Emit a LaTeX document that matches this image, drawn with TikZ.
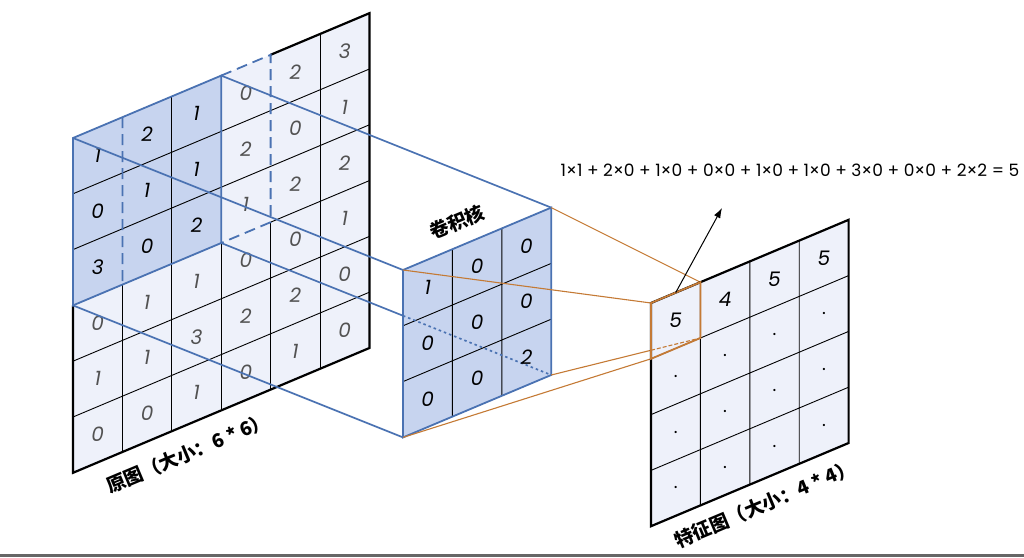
\documentclass[tikz,border=0pt]{standalone}
\usepackage{fontspec}
\setmainfont{Poppins}
\newfontfamily\cjk{Noto Sans CJK SC}
\usetikzlibrary{arrows.meta}
\tikzset{>={Latex[length=10pt,width=7pt]}}
\definecolor{gridfill}{HTML}{EEF1FA}
\definecolor{hlfill}{HTML}{C7D4EF}
\definecolor{hlblue}{HTML}{4A72B2}
\definecolor{mapline}{HTML}{C47A35}
\tikzset{
  skewcells/.style={x={(49.4pt,20.8pt)}, y={(0pt,-55.8pt)}},
  cellnum/.style={font=\fontsize{20}{20}\selectfont\itshape},
  title/.style={font=\cjk\bfseries\fontsize{19}{19}\selectfont, rotate=22.8},
  thin grid/.style={line width=0.9pt},
  frame/.style={line width=2.2pt, line join=miter},
  window/.style={draw=hlblue, line width=1.8pt, line join=miter},
  link/.style={hlblue, line width=1.7pt},
  maplink/.style={mapline, line width=1.1pt},
}

\begin{document}
\begin{tikzpicture}[x=1pt,y=-1pt]
  \useasboundingbox (0,0) rectangle (1024,557);
  \fill[black!60] (0,554) rectangle (1024,557);

  % input image 6*6
  \begin{scope}[shift={(73,138)}, skewcells]
    \fill[gridfill] (0,0) -- (6,0) -- (6,6) -- (0,6) -- cycle;
    \fill[hlfill] (0,0) -- (3,0) -- (3,3) -- (0,3) -- cycle;
    \foreach \c/\s in {1/3,2/0,3/3,4/3,5/0} \draw[thin grid] (\c,\s) -- (\c,6);
    \foreach \r/\s in {1/0,2/0,3/4,4/0,5/0} \draw[thin grid] (\s,\r) -- (6,\r);
    \draw[frame] (4,0) -- (6,0) -- (6,6) -- (0,6) -- (0,3);
    \draw[window] (0,0) -- (3,0) -- (3,3) -- (0,3) -- cycle;
    \draw[window, dash pattern=on 11pt off 6pt] (1,0) -- (1,3) (3,0) -- (4,0) -- (4,3) -- (3,3);
    \foreach \row [count=\r from 0] in {{1,2,1,0,2,3},{0,1,1,2,0,1},{3,0,2,1,2,2},{0,1,1,0,0,1},{1,1,3,2,2,0},{0,0,1,0,1,0}}
      \foreach \v [count=\c from 0] in \row {
        \ifnum\r<3 \ifnum\c<3 \def\numcol{black}\else\def\numcol{black!68}\fi\else\def\numcol{black!68}\fi
        \node[cellnum, text=\numcol] (o\r\c) at (\c+0.5,\r+0.5) {\v};
      }
    \coordinate (oTL) at (0,0);
    \coordinate (oTR) at (3,0);
    \coordinate (oBR) at (3,3);
    \coordinate (oBL) at (0,3);
    \node[title] (oname) at (2.33,6.52) {原图（大小：6 * 6）};
  \end{scope}

  % kernel 3*3
  \begin{scope}[shift={(403,270)}, skewcells]
    \coordinate (kTL) at (0,0);
    \coordinate (kTR) at (3,0);
    \coordinate (kBR) at (3,3);
    \coordinate (kBL) at (0,3);
    \draw[link] (oTL) -- (kTL) (oTR) -- (kTR) (oBL) -- (kBL) (oBR) -- (kBR);
    \fill[hlfill] (0,0) -- (3,0) -- (3,3) -- (0,3) -- cycle;
    \foreach \i in {1,2} \draw[thin grid] (\i,0) -- (\i,3) (0,\i) -- (3,\i);
    \draw[window] (0,0) -- (3,0) -- (3,3) -- (0,3) -- cycle;
    \draw[link, dash pattern=on 2.5pt off 3pt] (intersection of oBR--kBR and kTL--kBL) -- (kBR);
    \foreach \row [count=\r from 0] in {{1,0,0},{0,0,0},{0,0,2}}
      \foreach \v [count=\c from 0] in \row
        \node[cellnum] (k\r\c) at (\c+0.5,\r+0.5) {\v};
    \node[title] (kname) at (1.1,-0.45) {卷积核};
  \end{scope}

  % feature map 4*4
  \begin{scope}[shift={(651,303)}, skewcells]
    \coordinate (cTL) at (0,0);
    \coordinate (cTR) at (1,0);
    \coordinate (cBR) at (1,1);
    \coordinate (cBL) at (0,1);
    \coordinate (cTop) at (0.5,0);
    \draw[maplink] (kTL) -- (cTL) (kTR) -- (cTR) (kBL) -- (cBL) (kBR) -- (cBR);
    \fill[gridfill] (0,0) -- (4,0) -- (4,4) -- (0,4) -- cycle;
    \foreach \i in {1,2,3} \draw[thin grid] (\i,0) -- (\i,4) (0,\i) -- (4,\i);
    \draw[frame] (0,0) -- (4,0) -- (4,4) -- (0,4) -- cycle;
    \draw[maplink, dash pattern=on 4pt off 2pt] (intersection of kBR--cBR and cTL--cBL) -- (cBR);
    \draw[maplink, line width=1.8pt, line join=miter] (cTL) -- (cTR) -- (cBR) -- (cBL) -- cycle;
    \foreach \v [count=\c from 0] in {5,4,5,5}
      \node[cellnum] (f0\c) at (\c+0.5,0.5) {\v};
    \foreach \r in {1,2,3}
      \foreach \c in {0,1,2,3}
        \node[font=\fontsize{18}{18}\selectfont, inner sep=0pt] (f\r\c) at (\c+0.5,\r+0.5) {.};
    \node[title] (fname) at (2.3,4.46) {特征图（大小：4 * 4）};
  \end{scope}

  \node[font=\fontsize{17}{17}\selectfont] (formula) at (790,170)
    {1×1 + 2×0 + 1×0 + 0×0 + 1×0 + 1×0 + 3×0 + 0×0 + 2×2 = 5};
  \coordinate (aEnd) at (722,208);
  \draw[->, line width=1pt] (cTop) -- (aEnd);
\end{tikzpicture}
\end{document}
